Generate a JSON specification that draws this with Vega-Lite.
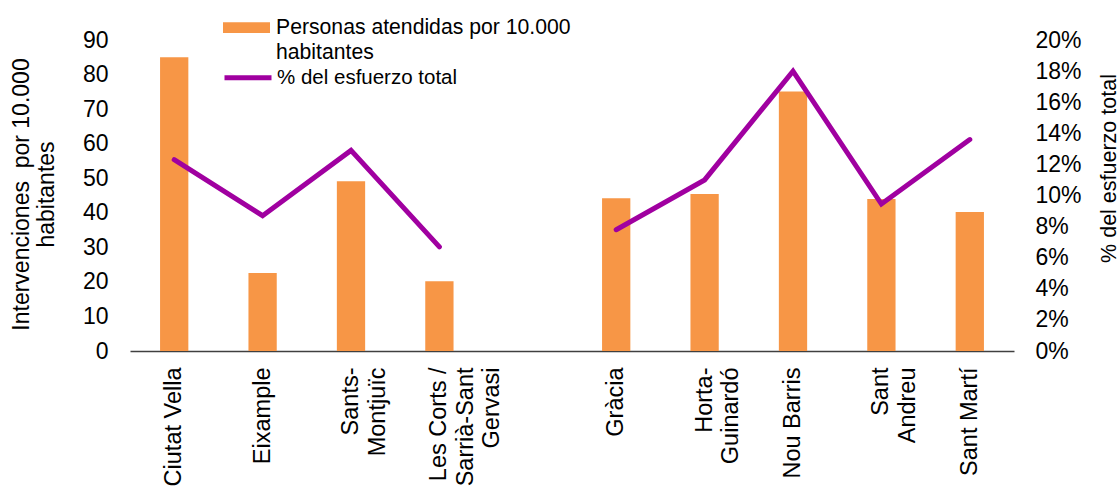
{
  "$schema": "https://vega.github.io/schema/vega-lite/v6.json",
  "width": 884,
  "height": 311,
  "autosize": {"type": "none"},
  "padding": {"left": 130, "top": 40, "right": 106, "bottom": 136},
  "background": "white",
  "config": {
    "view": {"stroke": null},
    "font": "Liberation Sans",
    "style": {"guide-label": {"lineHeight": 25}}
  },
  "data": {
    "values": [
      {"distrito": "Ciutat Vella", "personas": 85.0, "esfuerzo": 0.123, "tramo": "A"},
      {"distrito": "Eixample", "personas": 22.6, "esfuerzo": 0.087, "tramo": "A"},
      {"distrito": "Sants-Montjuïc", "personas": 49.1, "esfuerzo": 0.129, "tramo": "A"},
      {"distrito": "Les Corts / Sarrià-Sant Gervasi", "personas": 20.2, "esfuerzo": 0.067, "tramo": "A"},
      {"distrito": "Gràcia", "personas": 44.2, "esfuerzo": 0.078, "tramo": "B"},
      {"distrito": "Horta-Guinardó", "personas": 45.4, "esfuerzo": 0.110, "tramo": "B"},
      {"distrito": "Nou Barris", "personas": 75.1, "esfuerzo": 0.180, "tramo": "B"},
      {"distrito": "Sant Andreu", "personas": 44.0, "esfuerzo": 0.0945, "tramo": "B"},
      {"distrito": "Sant Martí", "personas": 40.2, "esfuerzo": 0.136, "tramo": "B"}
    ]
  },
  "encoding": {
    "x": {
      "field": "distrito",
      "type": "nominal",
      "sort": null,
      "scale": {
        "domain": ["Ciutat Vella", "Eixample", "Sants-Montjuïc", "Les Corts / Sarrià-Sant Gervasi", " ", "Gràcia", "Horta-Guinardó", "Nou Barris", "Sant Andreu", "Sant Martí"],
        "paddingInner": 0.68,
        "paddingOuter": 0.34
      },
      "axis": {
        "title": null,
        "domain": true,
        "domainColor": "#404040",
        "domainWidth": 1.5,
        "ticks": false,
        "grid": false,
        "labelAngle": -90,
        "labelAlign": "right",
        "labelBaseline": "middle",
        "labelFontSize": 23.5,
        "labelColor": "black",
        "labelPadding": 16,
        "labelLineHeight": 26.5,
        "labelLimit": 0,
        "labelExpr": "datum.label == 'Sants-Montjuïc' ? ['Sants-', 'Montjuïc'] : datum.label == 'Les Corts / Sarrià-Sant Gervasi' ? ['Les Corts /', 'Sarrià-Sant', 'Gervasi'] : datum.label == 'Horta-Guinardó' ? ['Horta-', 'Guinardó'] : datum.label == 'Sant Andreu' ? ['Sant', 'Andreu'] : datum.label"
      }
    }
  },
  "layer": [
    {
      "mark": {"type": "bar"},
      "encoding": {
        "y": {
          "field": "personas",
          "type": "quantitative",
          "scale": {"domain": [0, 90], "nice": false},
          "axis": {
            "orient": "left",
            "values": [0, 10, 20, 30, 40, 50, 60, 70, 80, 90],
            "grid": false,
            "domain": false,
            "ticks": false,
            "labelFontSize": 23,
            "labelColor": "black",
            "labelPadding": 22,
            "title": ["Intervenciones\u00a0 por 10.000", "habitantes"],
            "titleFontSize": 23,
            "titleFontWeight": "normal",
            "titleColor": "black",
            "titleAngle": -90,
            "titleAlign": "center",
            "titleBaseline": "middle",
            "titleLineHeight": 25,
            "titleX": -109,
            "titleY": 154
          }
        },
        "fill": {
          "datum": "Personas atendidas por 10.000 habitantes",
          "type": "nominal",
          "scale": {"range": ["#F79646"]},
          "legend": {
            "orient": "none",
            "legendX": 93,
            "legendY": -30,
            "title": null,
            "padding": 0,
            "symbolType": "M-1,-0.48H1V-0.02H-1Z",
            "symbolSize": 2209,
            "symbolStrokeWidth": 0,
            "labelFontSize": 21.2,
            "labelColor": "black",
            "labelBaseline": "alphabetic",
            "labelOffset": 6,
            "labelLimit": 0,
            "labelExpr": "datum.label == 'Personas atendidas por 10.000 habitantes' ? ['Personas atendidas por 10.000', 'habitantes'] : datum.label"
          }
        }
      }
    },
    {
      "mark": {"type": "line", "strokeWidth": 5, "strokeCap": "round", "strokeJoin": "miter"},
      "encoding": {
        "y": {
          "field": "esfuerzo",
          "type": "quantitative",
          "scale": {"domain": [0, 0.2], "nice": false},
          "axis": {
            "orient": "right",
            "values": [0, 0.02, 0.04, 0.06, 0.08, 0.1, 0.12, 0.14, 0.16, 0.18, 0.2],
            "format": ".0%",
            "grid": false,
            "domain": false,
            "ticks": false,
            "labelFontSize": 23,
            "labelColor": "black",
            "labelPadding": 21,
            "title": "% del esfuerzo total",
            "titleFontSize": 21.5,
            "titleFontWeight": "normal",
            "titleColor": "black",
            "titleAngle": -90,
            "titleAlign": "center",
            "titleBaseline": "middle",
            "titleX": 95,
            "titleY": 128
          }
        },
        "detail": {"field": "tramo"},
        "stroke": {
          "datum": "% del esfuerzo total",
          "type": "nominal",
          "scale": {"range": ["#A000A0"]},
          "legend": {
            "orient": "none",
            "legendX": 92,
            "legendY": 17.5,
            "title": null,
            "padding": 0,
            "symbolType": "M-1,-0.25H1",
            "symbolSize": 2209,
            "symbolStrokeWidth": 5,
            "labelFontSize": 20.5,
            "labelColor": "black",
            "labelBaseline": "alphabetic",
            "labelOffset": 3,
            "labelLimit": 0
          }
        }
      }
    }
  ],
  "resolve": {"scale": {"y": "independent"}}
}
